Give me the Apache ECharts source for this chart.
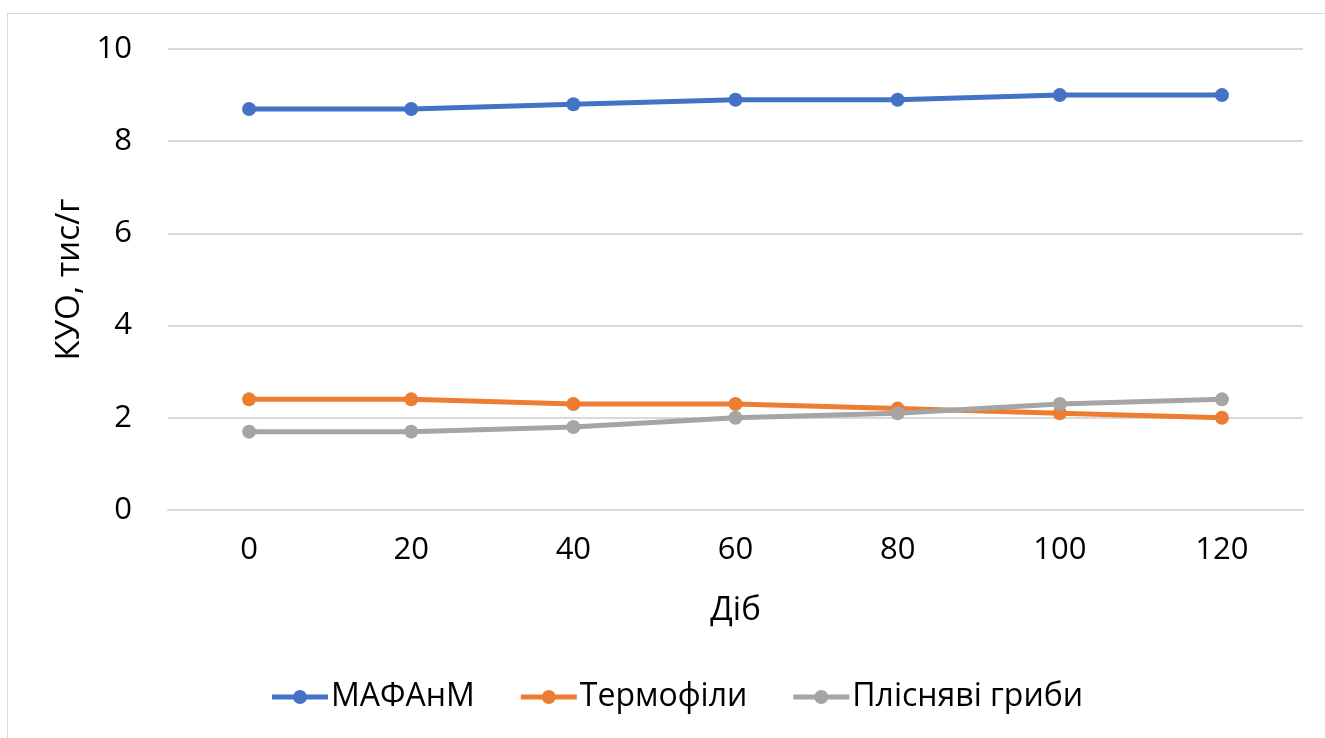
<!DOCTYPE html>
<html>
<head>
<meta charset="utf-8">
<script src="https://cdn.jsdelivr.net/npm/echarts@6/dist/echarts.min.js"></script>
<style>
  html, body { margin: 0; padding: 0; background: #fff; }
  #frame { position: absolute; left: 7px; top: 13px; width: 1330px; height: 740px; border: 1px solid #d9d9d9; box-sizing: border-box; }
  #chart { position: absolute; left: 0; top: 0; width: 1325px; height: 738px; }
</style>
</head>
<body>
<div id="frame"></div>
<div id="chart"></div>
<script>
// Days of storage
const days = ['0', '20', '40', '60', '80', '100', '120'];
// CFU, thousand per gram
const mafanm = [8.7, 8.7, 8.8, 8.9, 8.9, 9.0, 9.0];
const thermophiles = [2.4, 2.4, 2.3, 2.3, 2.2, 2.1, 2.0];
const moulds = [1.7, 1.7, 1.8, 2.0, 2.1, 2.3, 2.4];
const seriesNames = ['МАФАнМ', 'Термофіли', 'Плісняві гриби'];
const seriesColors = ['#4472c4', '#ed7d31', '#a5a5a5'];

const font = '"Open Sans", "Noto Sans", sans-serif';
const chart = echarts.init(document.getElementById('chart'), null, { renderer: 'canvas' });

const makeSeries = (name, data, color) => ({
  name, type: 'line', data,
  symbol: 'circle', symbolSize: 14,
  lineStyle: { width: 5, color },
  itemStyle: { color },
  animation: false
});

chart.setOption({
  backgroundColor: 'transparent',
  textStyle: { fontFamily: font },
  legend: {
    top: 676, left: 267,
    itemWidth: 56, itemHeight: 14, itemGap: 46,
    icon: 'path://M0,4.5 L56,4.5 L56,9.5 L0,9.5 Z M28,0 A7,7 0 1 1 27.99,0 Z',
    textStyle: { fontSize: 32, color: '#000', fontFamily: font, padding: [0, 0, 0, -2] },
    data: seriesNames.map((n, i) => ({ name: n, itemStyle: { color: seriesColors[i] } }))
  },
  grid: { left: 168, right: 22, top: 49, bottom: 228 },
  xAxis: {
    type: 'category', data: days, boundaryGap: true,
    name: 'Діб', nameLocation: 'middle', nameGap: 84,
    nameTextStyle: { fontSize: 33, color: '#000', fontFamily: font },
    axisLine: { show: true, lineStyle: { color: '#d9d9d9', width: 2 } },
    axisTick: { show: false },
    axisLabel: { fontSize: 31, color: '#000', margin: 25, fontFamily: font }
  },
  yAxis: {
    type: 'value', min: 0, max: 10, interval: 2,
    name: 'КУО, тис/г', nameLocation: 'middle', nameGap: 81, nameRotate: 90,
    nameTextStyle: { fontSize: 33, color: '#000', fontFamily: font },
    axisLine: { show: false }, axisTick: { show: false },
    axisLabel: { fontSize: 31, color: '#000', margin: 36, fontFamily: font },
    splitLine: { lineStyle: { color: '#d9d9d9', width: 2 } }
  },
  series: [
    makeSeries(seriesNames[0], mafanm, seriesColors[0]),
    makeSeries(seriesNames[1], thermophiles, seriesColors[1]),
    makeSeries(seriesNames[2], moulds, seriesColors[2])
  ]
});
</script>
</body>
</html>
